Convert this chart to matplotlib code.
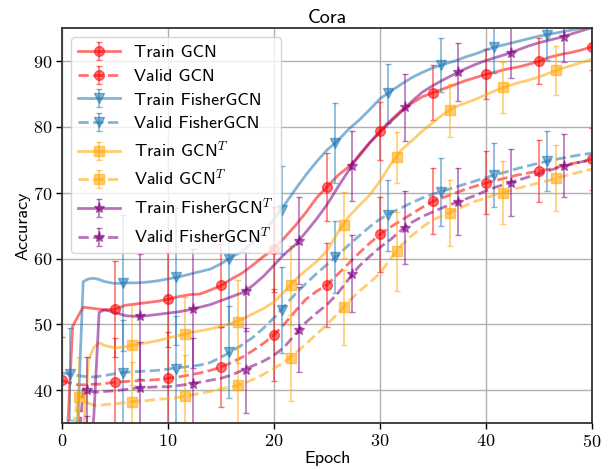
import numpy as np
import matplotlib.pyplot as plt
from matplotlib.legend_handler import HandlerTuple
from matplotlib.ticker import FuncFormatter

plt.rcParams['font.family'] = ['cmss10', 'DejaVu Sans']
plt.rcParams['mathtext.fontset'] = 'cm'
plt.rcParams['axes.unicode_minus'] = False

# epochs at which the curves were logged (denser at the start)
epochs = [0, 0.5, 1, 1.5, 2, 2.5, 3, 3.5, 4] + list(range(5, 51))

# curves (early part, then epochs 5..50)
train_gcn = [20, 33, 49.7, 51.2, 52.6, 52.5, 52.4, 52.3, 52.2,
             52.3, 52.9, 53.1, 53.3, 53.5, 53.8, 54.2, 54.5, 54.6, 55.2, 55.9, 56.9, 57.8, 59.0, 60.3, 61.5,
             63.2, 65.0, 67.0, 69.2, 70.9, 72.6, 73.9, 75.5, 77.5, 79.4,
             81.0, 82.5, 83.6, 84.6, 85.2, 85.8, 86.4, 87.0, 87.5, 88.0,
             88.4, 88.8, 89.1, 89.5, 90.0, 90.6, 91.0, 91.3, 91.7, 92.2]
valid_gcn = [41.5, 41.2, 41.0, 40.8, 40.8, 40.8, 40.9, 40.9, 41.0,
             41.2, 41.3, 41.4, 41.5, 41.6, 41.8, 42.0, 42.3, 42.6, 43.0, 43.5, 44.2, 45.0, 46.0, 47.1, 48.4,
             50.1, 52.0, 53.8, 55.0, 56.0, 57.6, 59.2, 60.8, 62.3, 63.7,
             64.8, 65.8, 66.8, 67.8, 68.7, 69.3, 69.9, 70.5, 71.0, 71.5,
             71.9, 72.3, 72.7, 73.0, 73.3, 73.6, 74.0, 74.4, 74.7, 75.1]
train_fisher = [20, 22, 28, 36, 56.5, 56.9, 57.0, 56.8, 56.5,
                56.2, 56.3, 56.3, 56.4, 56.6, 56.9, 57.2, 57.6, 58.0, 58.4, 59.2, 60.2, 61.1, 62.5, 64.0, 66.0,
                68.2, 70.5, 72.7, 74.7, 76.5, 77.9, 79.6, 81.0, 82.6, 84.3,
                85.4, 86.5, 87.5, 88.3, 89.0, 89.5, 90.0, 90.6, 91.1, 91.7,
                92.2, 92.6, 93.0, 93.4, 93.8, 94.1, 94.4, 94.7, 95.0, 95.3]
valid_fisher = [42.6, 42.5, 42.3, 42.2, 42.1, 42.0, 42.0, 42.1, 42.2,
                42.5, 42.7, 42.8, 42.9, 43.0, 43.2, 43.4, 43.6, 43.8, 44.2, 45.0, 45.9, 46.9, 48.0, 49.4, 51.0,
                52.8, 54.6, 56.2, 57.7, 59.1, 60.5, 62.0, 63.4, 64.8, 66.0,
                66.9, 67.7, 68.5, 69.2, 69.8, 70.3, 70.8, 71.3, 71.8, 72.3,
                72.8, 73.2, 73.7, 74.1, 74.5, 74.9, 75.2, 75.5, 75.8, 76.0]
train_gcn_t = [15, 17, 20, 25, 33, 44.5, 46.5, 47.2, 46.8,
               46.4, 46.6, 46.9, 47.2, 47.5, 47.9, 48.3, 48.7, 49.0, 49.3, 49.7, 50.2, 50.8, 51.6, 52.4, 53.4,
               55.0, 56.8, 58.2, 59.5, 61.2, 63.9, 66.3, 68.0, 69.6, 71.8,
               74.3, 76.5, 77.9, 79.4, 80.7, 82.0, 83.0, 83.6, 84.2, 84.9,
               85.6, 86.2, 86.7, 87.1, 87.6, 88.2, 88.8, 89.3, 89.8, 90.3]
valid_gcn_t = [20, 25, 33, 39.3, 38.6, 38.0, 37.7, 37.7, 37.8,
               37.9, 38.1, 38.3, 38.4, 38.6, 38.7, 38.9, 39.2, 39.5, 39.8, 40.2, 40.5, 40.9, 41.6, 42.4, 43.3,
               44.3, 45.6, 47.0, 48.5, 50.0, 51.6, 53.4, 55.0, 56.3, 57.8,
               60.0, 62.0, 63.5, 64.8, 65.9, 66.6, 67.3, 68.0, 68.7, 69.2,
               69.8, 70.2, 70.7, 71.1, 71.5, 71.9, 72.4, 72.8, 73.2, 73.6]
train_fisher_t = [15, 17, 20, 22, 25, 28, 36, 51.8, 52.2,
                  51.8, 51.3, 51.2, 51.3, 51.5, 51.7, 51.9, 52.2, 52.6, 53.0, 53.6, 54.2, 54.8, 55.9, 57.3, 59.0,
                  60.7, 62.1, 64.0, 66.0, 68.2, 70.8, 73.3, 75.7, 77.6, 79.2,
                  80.8, 82.3, 83.9, 85.3, 86.3, 87.2, 88.0, 88.8, 89.5, 90.1,
                  90.6, 91.1, 91.7, 92.3, 92.8, 93.2, 93.6, 94.1, 94.6, 95.1]
valid_fisher_t = [15, 18, 22, 30, 40.2, 39.9, 39.7, 39.7, 39.8,
                  39.9, 40.1, 40.3, 40.4, 40.5, 40.5, 40.7, 40.9, 41.2, 41.5, 41.8, 42.3, 43.0, 43.7, 44.4, 45.3,
                  46.6, 48.5, 50.3, 51.7, 53.0, 54.7, 56.8, 58.8, 60.3, 61.7,
                  62.9, 64.3, 65.5, 66.4, 67.1, 67.8, 68.4, 69.0, 69.6, 70.3,
                  70.9, 71.4, 71.9, 72.4, 72.9, 73.4, 73.9, 74.3, 74.7, 75.0]

# error-bar markers: every 5 epochs, each model shifted a bit
mark_gcn = [0, 5, 10, 15, 20, 25, 30, 35, 40, 45, 50]
mark_fisher = [0.78, 5.78, 10.78, 15.78, 20.78, 25.78, 30.78, 35.78, 40.78, 45.78]
mark_gcn_t = [1.56, 6.56, 11.56, 16.56, 21.56, 26.56, 31.56, 36.56, 41.56, 46.56]
mark_fisher_t = [2.34, 7.34, 12.34, 17.34, 22.34, 27.34, 32.34, 37.34, 42.34, 47.34]

train_gcn_m = [20, 52.3, 53.8, 55.9, 61.4, 70.9, 79.4, 85.2, 88.0, 90.0, 92.2]
train_gcn_err = [8, 7.3, 7.2, 6.3, 6.5, 5.2, 4.4, 4.2, 3.8, 3.5, 3.5]
valid_gcn_m = [41.5, 41.2, 41.8, 43.5, 48.4, 56.0, 63.7, 68.7, 71.5, 73.3, 75.1]
valid_gcn_err = [6.6, 6.7, 7.0, 6.1, 7.0, 6.4, 5.7, 5.0, 4.8, 4.7, 4.7]
train_fisher_m = [26, 56.3, 57.2, 60.0, 67.4, 77.6, 85.1, 89.4, 92.1, 94.0]
train_fisher_err = [9, 10.3, 10.4, 9.9, 6.7, 6.1, 4.5, 4.1, 3.9, 3.8]
valid_fisher_m = [42.4, 42.6, 43.2, 45.8, 52.2, 60.2, 66.6, 70.1, 72.7, 74.8]
valid_fisher_err = [7, 8, 8.1, 7, 6.5, 5.5, 5.4, 5.1, 4.9, 4.6]
train_gcn_t_m = [29, 46.8, 48.5, 50.4, 55.9, 65.1, 75.4, 82.5, 86.0, 88.6]
train_gcn_t_err = [8, 6.1, 5.6, 6.3, 6.0, 5.0, 3.9, 4.0, 3.9, 3.7]
valid_gcn_t_m = [39.0, 38.2, 39.1, 40.7, 44.9, 52.6, 61.1, 66.9, 70.0, 72.2]
valid_gcn_t_err = [6, 6, 6.2, 5.8, 6.5, 5.7, 6.0, 5.0, 4.8, 5.0]
train_fisher_t_m = [27, 51.2, 52.4, 55.0, 62.7, 74.1, 83.0, 88.3, 91.3, 93.7]
train_fisher_t_err = [9, 9.5, 9.1, 6.0, 6.6, 5.3, 5.1, 4.4, 3.9, 3.8]
valid_fisher_t_m = [40.0, 40.3, 40.9, 43.0, 49.2, 57.7, 64.7, 68.6, 71.5, 74.1]
valid_fisher_t_err = [5, 7, 7, 6.5, 6.5, 5.9, 5.5, 5.1, 5.1, 4.8]

series = [
    ('Train GCN', train_gcn, mark_gcn, train_gcn_m, train_gcn_err, 'red', 'o', '-'),
    ('Valid GCN', valid_gcn, mark_gcn, valid_gcn_m, valid_gcn_err, 'red', 'o', '--'),
    ('Train FisherGCN', train_fisher, mark_fisher, train_fisher_m, train_fisher_err, 'tab:blue', 'v', '-'),
    ('Valid FisherGCN', valid_fisher, mark_fisher, valid_fisher_m, valid_fisher_err, 'tab:blue', 'v', '--'),
    ('Train GCN$^T$', train_gcn_t, mark_gcn_t, train_gcn_t_m, train_gcn_t_err, 'orange', 's', '-'),
    ('Valid GCN$^T$', valid_gcn_t, mark_gcn_t, valid_gcn_t_m, valid_gcn_t_err, 'orange', 's', '--'),
    ('Train FisherGCN$^T$', train_fisher_t, mark_fisher_t, train_fisher_t_m, train_fisher_t_err, 'purple', '*', '-'),
    ('Valid FisherGCN$^T$', valid_fisher_t, mark_fisher_t, valid_fisher_t_m, valid_fisher_t_err, 'purple', '*', '--'),
]

fig = plt.figure(figsize=(6.08, 4.70), dpi=100)
ax = fig.add_axes([0.102, 0.1, 0.872, 0.84])

handles, labels = [], []
for name, curve, mx, my, err, col, mk, ls in series:
    line, = ax.plot(epochs, curve, color=col, ls=ls, lw=2, alpha=0.55)
    eb = ax.errorbar(mx, my, yerr=err, fmt=mk, color=col, ms=8 if mk == '*' else 7,
                     elinewidth=1.2, capsize=2, alpha=0.55)
    handles.append((line, eb))
    labels.append(name)

ax.set_xlim(0, 50)
ax.set_ylim(35, 95)
ax.set_xticks([0, 10, 20, 30, 40, 50])
ax.set_yticks([40, 50, 60, 70, 80, 90])
tex = FuncFormatter(lambda v, p: f'${v:g}$')
ax.xaxis.set_major_formatter(tex)
ax.yaxis.set_major_formatter(tex)
ax.tick_params(labelsize=13, length=4, width=1, pad=3)
ax.grid(True, color='#b0b0b0', lw=1)
ax.set_axisbelow(True)
for sp in ax.spines.values():
    sp.set_color('#333333')
    sp.set_linewidth(1.3)

ax.set_xlabel('Epoch', fontsize=13, labelpad=1)
ax.set_ylabel('Accuracy', fontsize=13, labelpad=2)
ax.set_title('Cora', fontsize=14.5, pad=4)

ax.legend(handles, labels, handler_map={tuple: HandlerTuple(ndivide=1)},
          loc='upper left', fontsize=13, handlelength=2.3, labelspacing=0.45,
          borderaxespad=0.5, handletextpad=0.8)

fig.savefig('out.png', dpi=100)
